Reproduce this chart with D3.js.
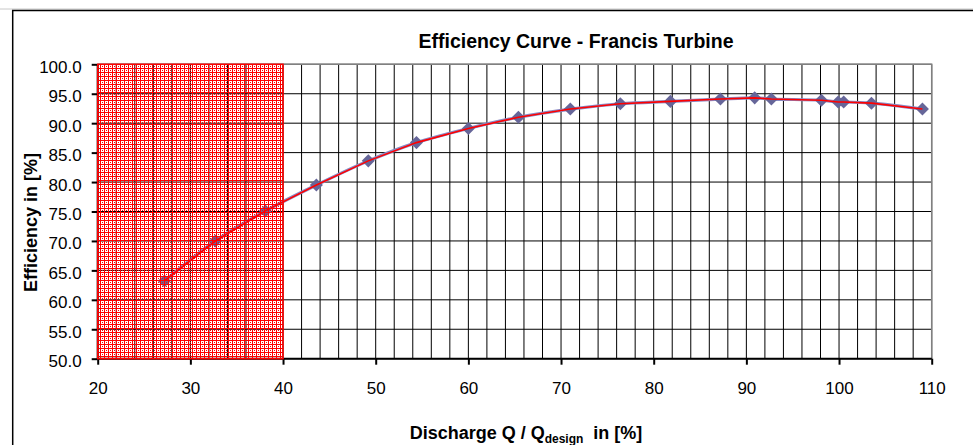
<!DOCTYPE html>
<html>
<head>
<meta charset="utf-8">
<script src="https://cdn.jsdelivr.net/npm/d3@7"></script>
<style>
  html, body { margin: 0; padding: 0; background: #fff; }
  svg { display: block; font-family: Arial, "Liberation Sans", sans-serif; }
</style>
</head>
<body>
<svg id="chart" width="973" height="445"></svg>
<script>
// Measured operating points of the turbine
const discharge = [27.2, 32.7, 38.1, 43.6, 49.2, 54.4, 60.0, 65.4, 71.0, 76.4, 81.8, 87.2, 90.9, 92.7, 98.1, 99.9, 100.5, 103.5, 109.0];
const efficiency = [63.2, 70.0, 75.1, 79.5, 83.6, 86.7, 89.1, 91.0, 92.4, 93.3, 93.7, 94.1, 94.3, 94.1, 93.9, 93.6, 93.6, 93.4, 92.4];

// Axis ticks and the shaded "not permitted" operating range
const xTicks = [20, 30, 40, 50, 60, 70, 80, 90, 100, 110];
const yTicks = [50, 55, 60, 65, 70, 75, 80, 85, 90, 95, 100];
const xGridStep = 2;
const restrictedRange = [20, 40];

const titleText = "Efficiency Curve - Francis Turbine";
const yTitleText = "Efficiency in [%]";

const svg = d3.select("#chart");
const plot = { left: 97.7, right: 931.7, top: 64.3, bottom: 358.7 };

const x = d3.scaleLinear().domain([20, 110]).range([plot.left, plot.right]);
const y = d3.scaleLinear().domain([50, 100]).range([plot.bottom, plot.top]);

// Outer chart frame
svg.append("line").attr("x1", 0).attr("x2", 973).attr("y1", 9).attr("y2", 9)
  .attr("stroke", "#c8c8c8").attr("stroke-width", 1);
svg.append("rect").attr("x", 12.7).attr("y", 10.5).attr("width", 1000).attr("height", 500)
  .attr("fill", "none").attr("stroke", "#000").attr("stroke-width", 1.5);

// Pattern for the restricted range: red pixels, the rest left see-through
const defs = svg.append("defs");
const pat = defs.append("pattern").attr("id", "hatch").attr("patternUnits", "userSpaceOnUse")
  .attr("width", 4).attr("height", 4);
pat.append("rect").attr("x", 0).attr("y", 0).attr("width", 4).attr("height", 1).attr("fill", "#ff0000");
pat.append("rect").attr("x", 0).attr("y", 0).attr("width", 1).attr("height", 4).attr("fill", "#ff0000");
pat.append("rect").attr("x", 2).attr("y", 2).attr("width", 1).attr("height", 1).attr("fill", "#ff0000");

// Gridlines
const xGrid = d3.range(20, 110 + 0.001, xGridStep);
svg.append("g").selectAll("line").data(xGrid).join("line")
  .attr("x1", d => x(d)).attr("x2", d => x(d))
  .attr("y1", plot.top).attr("y2", plot.bottom)
  .attr("stroke", "#000").attr("stroke-width", 1);
svg.append("g").selectAll("line").data(yTicks).join("line")
  .attr("x1", plot.left).attr("x2", plot.right)
  .attr("y1", d => y(d)).attr("y2", d => y(d))
  .attr("stroke", "#000").attr("stroke-width", 1);
// plot border (top / right)
svg.append("path")
  .attr("d", `M${plot.left},${plot.top}H${plot.right}V${plot.bottom}`)
  .attr("fill", "none").attr("stroke", "#808080").attr("stroke-width", 1.5);

// Axes
const xAxis = d3.axisBottom(x).tickValues(xTicks).tickSize(6).tickFormat(d3.format("d"));
const yAxis = d3.axisLeft(y).tickValues(yTicks).tickSize(6).tickFormat(d3.format(".1f"));

const gx = svg.append("g").attr("transform", `translate(0,${plot.bottom})`).call(xAxis);
gx.select(".domain").attr("stroke", "#000").attr("stroke-width", 2).attr("d", `M${plot.left},0H${plot.right}`);
gx.selectAll(".tick line").attr("stroke", "#000").attr("stroke-width", 2);
gx.selectAll(".tick text").attr("y", 35).attr("dy", 0)
  .attr("font-size", 17).attr("fill", "#000").attr("font-family", "Arial, 'Liberation Sans', sans-serif");

const gy = svg.append("g").attr("transform", `translate(${plot.left},0)`).call(yAxis);
gy.select(".domain").attr("stroke", "#000").attr("stroke-width", 2).attr("d", `M0,${plot.top}V${plot.bottom}`);
gy.selectAll(".tick line").attr("stroke", "#000").attr("stroke-width", 2);
gy.selectAll(".tick text").attr("x", -16).attr("dy", 8)
  .attr("font-size", 17).attr("fill", "#000").attr("font-family", "Arial, 'Liberation Sans', sans-serif");

// Series
const pts = discharge.map((d, i) => [d, efficiency[i]]);
const smooth = d3.line().x(d => x(d[0])).y(d => y(d[1])).curve(d3.curveCatmullRom.alpha(0.5));
const straight = d3.line().x(d => x(d[0])).y(d => y(d[1]));

svg.append("path").attr("d", smooth(pts)).attr("fill", "none")
  .attr("stroke", "#8a8ac4").attr("stroke-width", 3.2);
const sym = d3.symbol().type(d3.symbolSquare).size(85);
svg.append("g").selectAll("path").data(pts).join("path")
  .attr("d", sym)
  .attr("transform", d => `translate(${x(d[0])},${y(d[1])}) rotate(45)`)
  .attr("fill", "#666699");
svg.append("path").attr("d", straight(pts)).attr("fill", "none")
  .attr("stroke", "#ff0000").attr("stroke-width", 1.6);

// Restricted operating range, drawn over the gridlines and series
svg.append("rect")
  .attr("x", x(restrictedRange[0])).attr("y", y(100))
  .attr("width", x(restrictedRange[1]) - x(restrictedRange[0]))
  .attr("height", y(50) - y(100))
  .attr("fill", "url(#hatch)").attr("stroke", "#ff0000").attr("stroke-width", 1.5);

// Titles
svg.append("text").attr("x", 576).attr("y", 47.5).attr("text-anchor", "middle")
  .attr("font-size", 19.5).attr("font-weight", "bold").text(titleText);

svg.append("text")
  .attr("transform", "translate(36.5,222.5) rotate(-90)")
  .attr("text-anchor", "middle").attr("font-size", 18).attr("font-weight", "bold")
  .text(yTitleText);

const xt = svg.append("text").attr("x", 526).attr("y", 439).attr("text-anchor", "middle")
  .attr("font-size", 18).attr("font-weight", "bold");
xt.append("tspan").text("Discharge Q / Q");
xt.append("tspan").attr("font-size", 12).attr("dy", 4).text("design");
xt.append("tspan").attr("dy", -4).text("\u00a0\u00a0in [%]");
</script>
</body>
</html>
